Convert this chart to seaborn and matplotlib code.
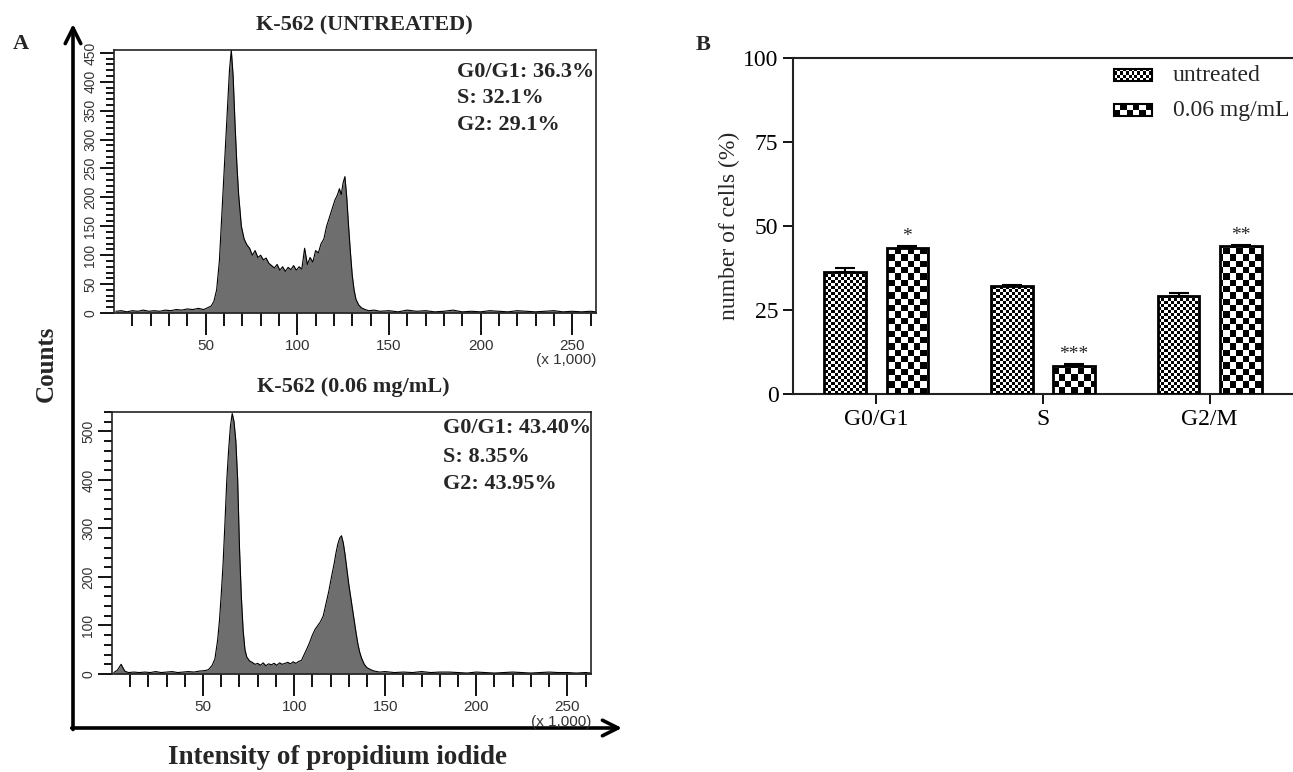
import numpy as np
import pandas as pd
import seaborn as sns
import matplotlib.pyplot as plt
from matplotlib.ticker import FixedLocator
from matplotlib.patches import Rectangle

sns.set_theme(style="white")
plt.rcParams['font.family'] = ['Liberation Serif', 'DejaVu Serif']

# ---- panel A: DNA content histograms (x in thousands) ----
untreated_x = [1, 4, 7, 10, 13, 16, 19, 22, 25, 28, 31, 34, 37, 40, 43, 46, 49, 51, 53,
               54.5, 56, 57.5, 59, 60.5, 62, 63, 64, 65, 66, 67, 68, 69.5, 71, 72.5, 74,
               75.5, 77, 78.5, 80, 81.5, 83, 84.5, 86, 87.5, 89, 90.5, 92, 93.5, 95, 96.5,
               98, 99.5, 101, 102.5, 104, 105.5, 107, 108.5, 110, 111.5, 113, 114.5, 116,
               117.5, 119, 120.5, 122, 123, 124, 125, 126, 127, 128, 129, 130, 131, 132,
               133.5, 135, 137, 139, 142, 145, 150, 155, 160, 165, 170, 175, 180, 185, 190,
               195, 200, 205, 210, 215, 220, 225, 230, 235, 240, 245, 250, 255, 260, 263]
untreated_counts = [3, 4, 2, 4, 3, 5, 3, 4, 3, 5, 4, 6, 5, 7, 6, 8, 6, 9, 12,
                    20, 40, 90, 180, 270, 360, 420, 455, 410, 330, 260, 205, 150, 128, 118, 112,
                    100, 108, 96, 100, 92, 95, 86, 82, 78, 84, 74, 80, 72, 79, 75,
                    82, 74, 80, 76, 112, 84, 96, 88, 108, 104, 120, 128, 150,
                    165, 180, 195, 205, 215, 205, 225, 236, 200, 150, 105, 65, 40, 24,
                    14, 9, 6, 4, 5, 3, 4, 2, 5, 3, 4, 2, 3, 5, 2,
                    3, 2, 4, 3, 2, 4, 3, 2, 3, 4, 2, 3, 2, 3, 2]

treated_x = [1, 3, 5, 7, 9, 12, 15, 18, 21, 24, 27, 30, 33, 36, 39, 42, 45, 48, 51, 53,
             55, 56.5, 58, 59, 60, 61, 62, 63, 64, 65, 66, 67, 68, 69, 70, 71, 72, 73, 74,
             75.5, 77, 78.5, 80, 81.5, 83, 84.5, 86, 87.5, 89, 90.5, 92, 93.5, 95, 96.5, 98,
             99.5, 101, 102.5, 104, 105.5, 107, 108.5, 110, 111.5, 113, 114.5, 116, 117.5,
             119, 120.5, 122, 123, 124, 125, 126, 127, 128, 129, 130, 131, 132, 133, 134,
             135, 136, 137, 138.5, 140, 142, 144, 147, 150, 155, 160, 165, 170, 175, 180,
             185, 190, 195, 200, 205, 210, 215, 220, 225, 230, 235, 240, 245, 250, 255, 260, 263]
treated_counts = [3, 8, 20, 6, 3, 4, 3, 4, 3, 5, 3, 4, 5, 3, 4, 5, 4, 6, 7, 9,
                  18, 31, 70, 110, 165, 228, 310, 398, 460, 510, 537, 520, 480, 400, 260, 160, 90, 50, 35,
                  27, 24, 20, 22, 18, 23, 17, 21, 19, 22, 18, 23, 20, 22, 24, 21,
                  25, 22, 26, 28, 40, 52, 65, 80, 92, 100, 108, 120, 145,
                  170, 200, 228, 250, 268, 280, 285, 270, 245, 215, 185, 160, 135, 110, 85,
                  62, 45, 33, 20, 13, 9, 6, 4, 5, 3, 4, 3, 5, 3, 4,
                  4, 3, 2, 4, 3, 2, 3, 4, 3, 2, 3, 4, 3, 3, 2, 3, 2]

untreated_text = ["G0/G1: 36.3%", "S: 32.1%", "G2: 29.1%"]
treated_text = ["G0/G1: 43.40%", "S: 8.35%", "G2: 43.95%"]

# ---- panel B: cell-cycle distribution ----
phases = ["G0/G1", "S", "G2/M"]
groups = ["untreated", "0.06 mg/mL"]
untreated_pct = [36.3, 32.1, 29.1]
treated_pct = [43.4, 8.35, 43.95]
untreated_err = [1.2, 0.3, 1.0]
treated_err = [0.7, 0.5, 0.4]
stars = ["*", "***", "**"]

W, H = 1293, 772
fig = plt.figure(figsize=(W / 100, H / 100), dpi=100)
fig.patch.set_facecolor('white')


def px_axes(left, top, right, bottom):
    return fig.add_axes([left / W, 1 - bottom / H, (right - left) / W, (bottom - top) / H])


def hist_panel(ax, x, y, ymax, yticks, yminor, title, title_pos, lines, text_x, text_y, note_y):
    ax.fill_between(x, y, color='#6e6e6e', lw=0, zorder=1)
    sns.lineplot(x=x, y=y, ax=ax, color='black', lw=0.8, zorder=2)
    ax.set_xlim(0, 263)
    ax.set_ylim(0, ymax)
    ax.xaxis.set_major_locator(FixedLocator([50, 100, 150, 200, 250]))
    ax.xaxis.set_minor_locator(FixedLocator(list(range(10, 261, 10))))
    ax.yaxis.set_major_locator(FixedLocator(yticks))
    ax.yaxis.set_minor_locator(FixedLocator(yminor))
    ax.tick_params(axis='both', which='both', direction='out', colors='black',
                   labelcolor='#333333', width=1.3)
    ax.tick_params(axis='x', which='major', length=16, labelsize=11, pad=3)
    ax.tick_params(axis='x', which='minor', length=9)
    ax.tick_params(axis='y', which='major', length=10, labelsize=10, pad=2)
    ax.tick_params(axis='y', which='minor', length=6)
    ax.tick_params(bottom=True, left=True, which='both')
    for lab in ax.get_xticklabels() + ax.get_yticklabels():
        lab.set_family(['Liberation Sans', 'DejaVu Sans'])
    plt.setp(ax.get_yticklabels(), rotation=90, va='center')
    for s in ax.spines.values():
        s.set_color('#222222')
        s.set_linewidth(1.2)
    ax.set_xlabel('')
    ax.set_ylabel('')
    ax.text(title_pos[0], title_pos[1], title, transform=ax.transAxes, ha='center',
            va='center', fontsize=16, fontweight='bold')
    for t, yy in zip(lines, text_y):
        ax.text(text_x, yy, t, transform=ax.transAxes, ha='left', va='center',
                fontsize=16, fontweight='bold', clip_on=False)
    ax.text(1.0, note_y, "(x 1,000)", transform=ax.transAxes, ha='right', va='center',
            fontsize=11, color='#333333', family=['Liberation Sans', 'DejaVu Sans'])


ax_top = px_axes(114, 50, 596, 313)
hist_panel(ax_top, untreated_x, untreated_counts, 455, list(range(0, 451, 50)),
           list(range(0, 451, 10)), "K-562 (UNTREATED)", (0.519, 1.095),
           untreated_text, 0.712, [0.916, 0.817, 0.715], -0.179)

ax_bot = px_axes(112, 412, 591, 674)
hist_panel(ax_bot, treated_x, treated_counts, 540, list(range(0, 501, 100)),
           list(range(0, 541, 20)), "K-562 (0.06 mg/mL)", (0.503, 1.095),
           treated_text, 0.691, [0.939, 0.828, 0.725], -0.183)

# big axis arrows and labels of panel A
ax_bg = fig.add_axes([0, 0, 1, 1], zorder=-1)
ax_bg.set_xlim(0, W)
ax_bg.set_ylim(H, 0)
ax_bg.axis('off')
arrow = dict(arrowstyle='->', lw=2.6, color='black', mutation_scale=28, shrinkA=0, shrinkB=0)
ax_bg.annotate("", xy=(73, 24), xytext=(73, 729.5), arrowprops=arrow)
ax_bg.annotate("", xy=(622, 728), xytext=(71.7, 728), arrowprops=arrow)
ax_bg.text(21, 44, "A", fontsize=16, fontweight='bold', ha='center', va='center')
ax_bg.text(46, 364, "Counts", fontsize=18, fontweight='bold', rotation=90,
           ha='center', va='center')
ax_bg.text(337, 757, "Intensity of propidium iodide", fontsize=19.5, fontweight='bold',
           ha='center', va='center')
ax_bg.text(703, 45, "B", fontsize=16, fontweight='bold', ha='center', va='center')

# ---- panel B bar chart ----
df = pd.DataFrame({
    "phase": phases * 2,
    "pct": untreated_pct + treated_pct,
    "group": [groups[0]] * 3 + [groups[1]] * 3,
})
ax_bar = px_axes(793, 58, 1293, 394)
pal = {groups[0]: '#aaaaaa', groups[1]: '#555555'}
sns.barplot(data=df, x="phase", y="pct", hue="group", hue_order=groups, order=phases,
            palette=pal, width=0.745, gap=0.33, errorbar=None, legend=False,
            edgecolor='black', linewidth=2, ax=ax_bar)
ax_bar.set_xlim(-0.5, 2.5)
ax_bar.set_ylim(0, 100)


def checker(nx, ny):
    return np.add.outer(np.arange(ny), np.arange(nx)) % 2


tex_fine = checker(167, 112)
tex_big = checker(79, 53)

bars_u, bars_t = [], []
for p in ax_bar.patches:
    fc = p.get_facecolor()
    (bars_u if fc[0] > 0.5 else bars_t).append(p)
bars_u.sort(key=lambda b: b.get_x())
bars_t.sort(key=lambda b: b.get_x())

for bars, tex in ((bars_u, tex_fine), (bars_t, tex_big)):
    for b in bars:
        b.set_facecolor('none')
        b.set_zorder(3)
        im = ax_bar.imshow(tex, cmap='gray', extent=(-0.5, 2.5, 0, 100), origin='lower',
                           aspect='auto', interpolation='nearest', zorder=2, vmin=0, vmax=1)
        im.set_clip_path(b)

for bars, errs in ((bars_u, untreated_err), (bars_t, treated_err)):
    xs = [b.get_x() + b.get_width() / 2 for b in bars]
    hs = [b.get_height() for b in bars]
    ax_bar.errorbar(xs, hs, yerr=[np.zeros(len(errs)), errs], fmt='none', ecolor='black',
                    elinewidth=1.5, capsize=7, capthick=1.5, zorder=4)

for b, e, s in zip(bars_t, treated_err, stars):
    ax_bar.text(b.get_x() + b.get_width() / 2, b.get_height() + e + 2.8, s,
                ha='center', va='center', fontsize=14)

# legend drawn by hand so the checker textures match the bars
leg_rows = [(groups[0], checker(13, 4), 0.949), (groups[1], checker(6, 2), 0.845)]
for name, tex, yc in leg_rows:
    x0, x1, h = 0.642, 0.718, 0.036
    im = ax_bar.imshow(tex, cmap='gray', extent=(x0, x1, yc - h / 2, yc + h / 2),
                       transform=ax_bar.transAxes, origin='lower', aspect='auto',
                       interpolation='nearest', vmin=0, vmax=1, zorder=5)
    ax_bar.add_patch(Rectangle((x0, yc - h / 2), x1 - x0, h, transform=ax_bar.transAxes,
                               fill=False, edgecolor='black', lw=1.5, zorder=6))
    ax_bar.text(0.76, yc, name, transform=ax_bar.transAxes, ha='left', va='center',
                fontsize=17, clip_on=False)

ax_bar.set_xlim(-0.5, 2.5)
ax_bar.set_ylim(0, 100)
ax_bar.set_yticks([0, 25, 50, 75, 100])
ax_bar.set_xlabel('')
ax_bar.set_ylabel('number of cells (%)', fontsize=17, labelpad=2)
ax_bar.tick_params(axis='both', which='major', direction='out', length=7, width=1.3,
                   labelsize=17, colors='black', bottom=True, left=True)
ax_bar.spines['right'].set_visible(False)
for s in ('left', 'bottom', 'top'):
    ax_bar.spines[s].set_color('#222222')
    ax_bar.spines[s].set_linewidth(1.5)

fig.savefig('out.png', dpi=100, facecolor='white')
